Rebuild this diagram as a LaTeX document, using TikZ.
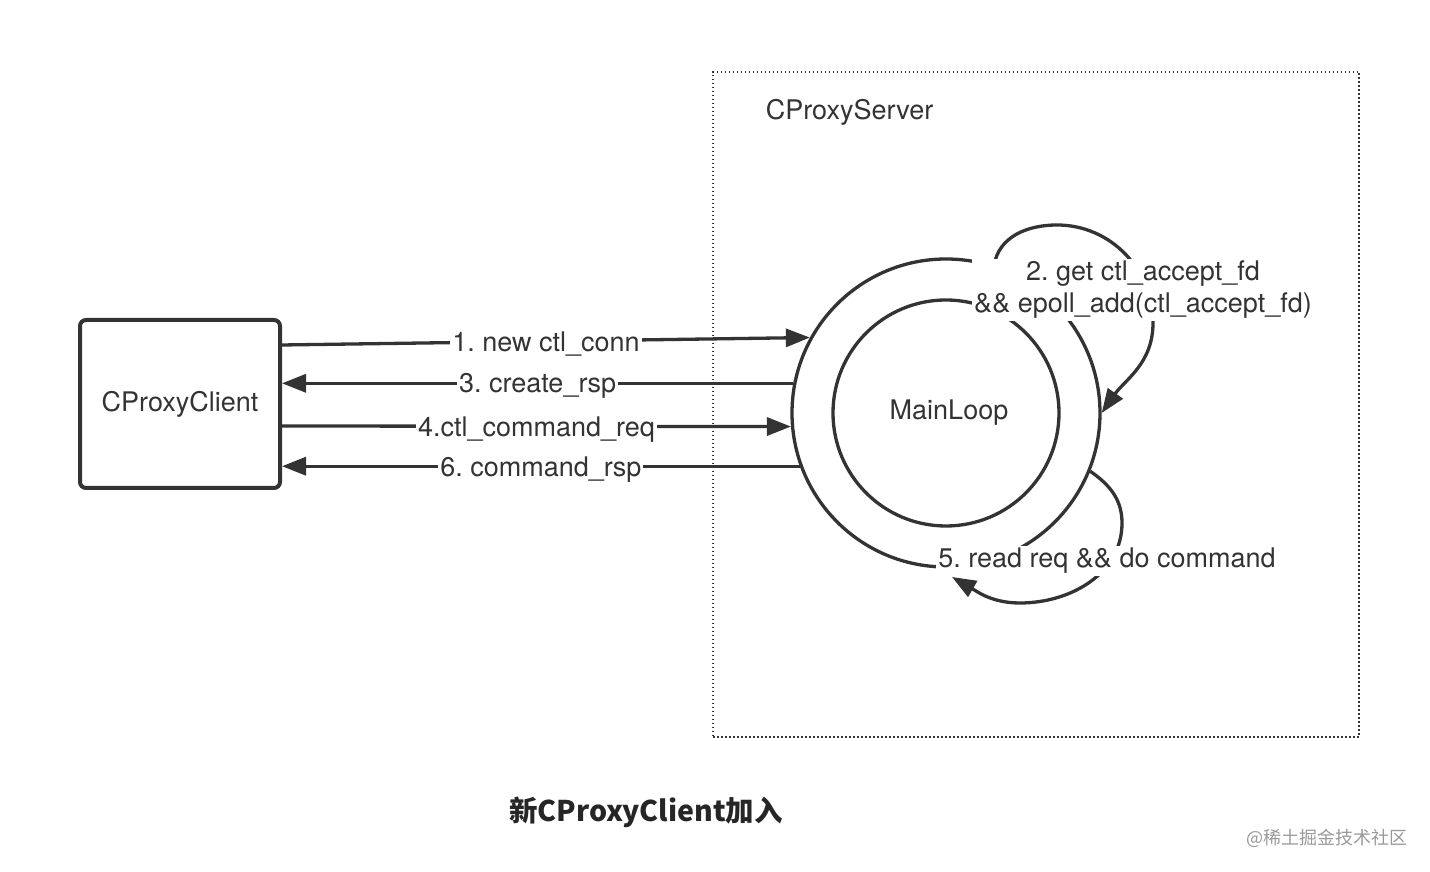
\documentclass[tikz,border=0pt]{standalone}
\usepackage{fontspec}
\setmainfont{TeX Gyre Heros}
\newfontfamily\cjk{Noto Sans CJK SC}
\usepackage{tikz}
\usetikzlibrary{arrows.meta}
\definecolor{ink}{HTML}{333333}
\frenchspacing

\begin{document}
\begin{tikzpicture}[x=1pt,y=1pt,font=\fontsize{27}{32}\selectfont,text=ink,flow/.style={draw=ink,line width=3.3pt,-{Triangle[length=24pt,width=18pt]}},lbl/.style={fill=white,inner sep=2pt,yshift=-3pt},ring/.style={circle,draw=ink,line width=3.3pt,inner sep=0pt},clbox/.style={draw=ink,line width=4pt,rounded corners=6pt,minimum width=200,minimum height=168},srvbox/.style={draw=ink,line width=1.5pt,dash pattern=on 1.5pt off 2.5pt,minimum width=646,minimum height=665}]
\useasboundingbox (0,0) rectangle (1430,872);
\node[srvbox] (server) at (1036,467.5) {};
\node[anchor=west] (srvname) at ([xshift=50,yshift=-41]server.north west) {CProxyServer};
\node[clbox] (client) at (180,468) {CProxyClient};
\node[ring,minimum size=308] (outer) at (946,459) {};
\node[ring,minimum size=226] (inner) at (outer) {\hspace*{6pt}MainLoop};
\foreach \ang/\dy/\txt in %
{151/59/1. new ctl\_conn,185/-22/4.ctl\_command\_req} {
   \draw[flow] ([yshift=\dy]client.east) -- node[lbl]{\txt} (outer.\ang);
}
\foreach \ang/\txt in %
{169/3. create\_rsp,200/6. command\_rsp} {
   \draw[flow] (outer.\ang) -- node[lbl]{\txt} (client.east |- outer.\ang);
}
\draw[flow] (outer.72) to[out=80,in=180] (1057,647) to[out=0,in=90] (1153,549)
   to[out=-90,in=55] (outer.0);
\coordinate (rdtip) at (952,295);
\draw[flow] (outer.-22) to[out=-35,in=90] (1122,349) to[out=-90,in=0] (1020,269)
   to[out=180,in=-30] (rdtip);
\node[lbl,align=center] (getfd) at (1143,585) {2. get ctl\_accept\_fd\\\&\& epoll\_add(ctl\_accept\_fd)};
\node[lbl] (docmd) at (1107,314) {5. read req \&\& do command};
\node[font=\cjk\bfseries\fontsize{28.5}{34}\selectfont,text=black!85] (title) at (646,60) {新CProxyClient加入};
\node[font=\cjk\fontsize{18}{22}\selectfont,text=black!40] (mark) at (1327,34) {@稀土掘金技术社区};
\end{tikzpicture}
\end{document}
